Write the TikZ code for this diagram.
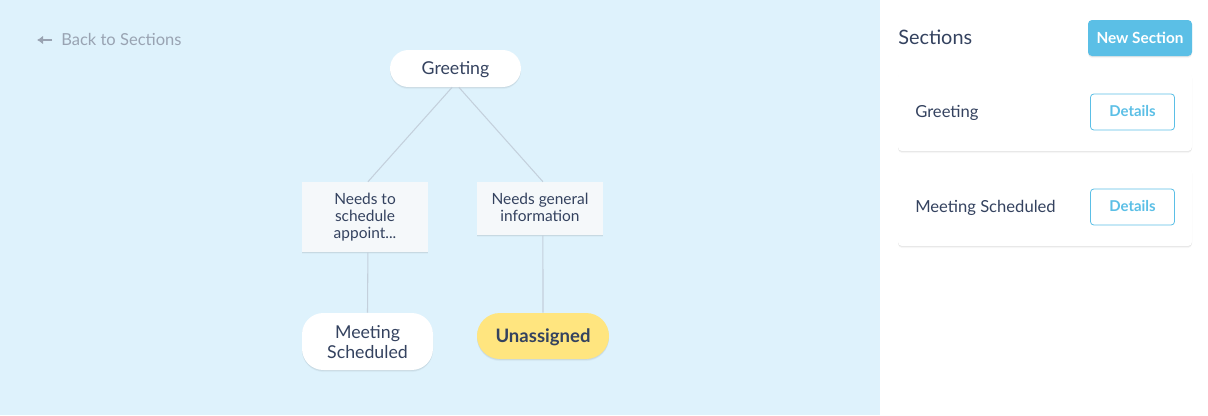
\documentclass[tikz,border=0pt]{standalone}
\usepackage{fontspec}
\setmainfont{Lato}
\usetikzlibrary{shadows, arrows.meta}
\definecolor{panelblue}{HTML}{DEF2FC}
\definecolor{inkblue}{HTML}{34425F}
\definecolor{buttonblue}{HTML}{5BBFE6}
\definecolor{linegray}{HTML}{C4D0DC}
\definecolor{backgray}{HTML}{99A3B2}
\definecolor{choicefill}{HTML}{F5F8FA}
\definecolor{unassignedfill}{HTML}{FFE57F}
\tikzset{
    softshadow/.style={
        drop shadow={shadow xshift=0pt, shadow yshift=-1.6pt, fill=black, opacity=0.025},
        drop shadow={shadow xshift=0pt, shadow yshift=-1.1pt, fill=black, opacity=0.035},
        drop shadow={shadow xshift=0pt, shadow yshift=-0.6pt, fill=black, opacity=0.045}},
    linkstyle/.style={linegray, line width=0.8pt},
    basestyle/.style={inner sep=0pt, align=center, text=inkblue},
    sectionstyle/.style={basestyle, fill=white, softshadow, font=\fontsize{13.3}{15}\selectfont, minimum width=98.25pt},
    choicestyle/.style={basestyle, fill=choicefill, softshadow, font=\fontsize{11.6}{12.75}\selectfont, minimum width=94.5pt},
    cardstyle/.style={fill=white, softshadow, rounded corners=3pt, minimum width=220.5pt, minimum height=58.5pt},
    cardlabelstyle/.style={basestyle, font=\fontsize{12.45}{14}\selectfont, anchor=west},
    detailsstyle/.style={draw=buttonblue, line width=0.6pt, rounded corners=2.5pt, fill=white, text=buttonblue, font=\fontsize{11.2}{13}\selectfont\bfseries, minimum width=63pt, minimum height=27pt, inner sep=0pt}
}
\begin{document}
\begin{tikzpicture}[x=0.75pt, y=-0.75pt]

        \useasboundingbox (0,0) rectangle (1208,415);

        % ================= BACKGROUND =================
        \fill[panelblue] (0,0) rectangle (880,415);
        \fill[white] (880,0) rectangle (1208,415);

        % ================= BACK LINK =================
        \node[basestyle, anchor=west, text=backgray, font=\fontsize{12.4}{14}\selectfont] (backlabel) at (61,39.5) {Back to Sections};
        \coordinate (backtail) at (52,40);
        \coordinate (backtip) at (37,40);
        \draw[-{Latex[length=4.5pt, width=6.5pt]}, backgray, line width=1.7pt] (backtail) -- (backtip);

        % ================= TREE =================
        \node[sectionstyle, minimum height=27.75pt, rounded corners=13.8pt, text depth=1.3pt] (greeting) at (455.5,68.5) {Greeting};
        \node[choicestyle, minimum height=52.5pt] (needsappt) at (365,217) {Needs to\\schedule\\appoint...};
        \node[choicestyle, minimum height=39.75pt, text depth=1.5pt] (needsinfo) at (540,208.5) {Needs general\\information};
        \node[sectionstyle, minimum height=42.75pt, rounded corners=16pt, text height=26pt] (meeting) at (367.5,341.5) {Meeting\\Scheduled};
        \node[sectionstyle, fill=unassignedfill, minimum width=99pt, minimum height=34.5pt, rounded corners=17.2pt, text depth=0pt, font=\fontsize{13.9}{15}\selectfont\bfseries] (unassigned) at (543,336) {Unassigned};

        % links
        \draw[linkstyle] ([xshift=-2.5pt]greeting.south) -- ([xshift=2.2pt]needsappt.north);
        \draw[linkstyle] ([xshift=2.5pt]greeting.south) -- ([xshift=2.2pt]needsinfo.north);
        \draw[linkstyle] ([xshift=2.2pt]needsappt.south) -- (meeting.north);
        \draw[linkstyle] ([xshift=2.2pt]needsinfo.south) -- (unassigned.north);

        % ================= SIDEBAR =================
        \node[basestyle, anchor=west, font=\fontsize{14.9}{16}\selectfont] (sectionstitle) at (898,37.5) {Sections};
        \node[fill=buttonblue, softshadow, rounded corners=3pt, text=white, inner sep=0pt, minimum width=78pt, minimum height=27pt, font=\fontsize{11.5}{13}\selectfont\bfseries] (newsection) at (1140,38) {New Section};

        % Greeting card
        \node[cardstyle] (greetingcard) at (1045,112) {};
        \node[cardlabelstyle, text depth=1.2pt] (greetinglabel) at (915,112.5) {Greeting};
        \node[detailsstyle, text depth=1.5pt] (greetingdetails) at (1132.5,112) {Details};

        % Meeting Scheduled card
        \node[cardstyle] (meetingcard) at (1045,207) {};
        \node[cardlabelstyle, text depth=1.2pt] (meetinglabel) at (915,207.5) {Meeting Scheduled};
        \node[detailsstyle, text depth=1.5pt] (meetingdetails) at (1132.5,207) {Details};

\end{tikzpicture}
\end{document}
